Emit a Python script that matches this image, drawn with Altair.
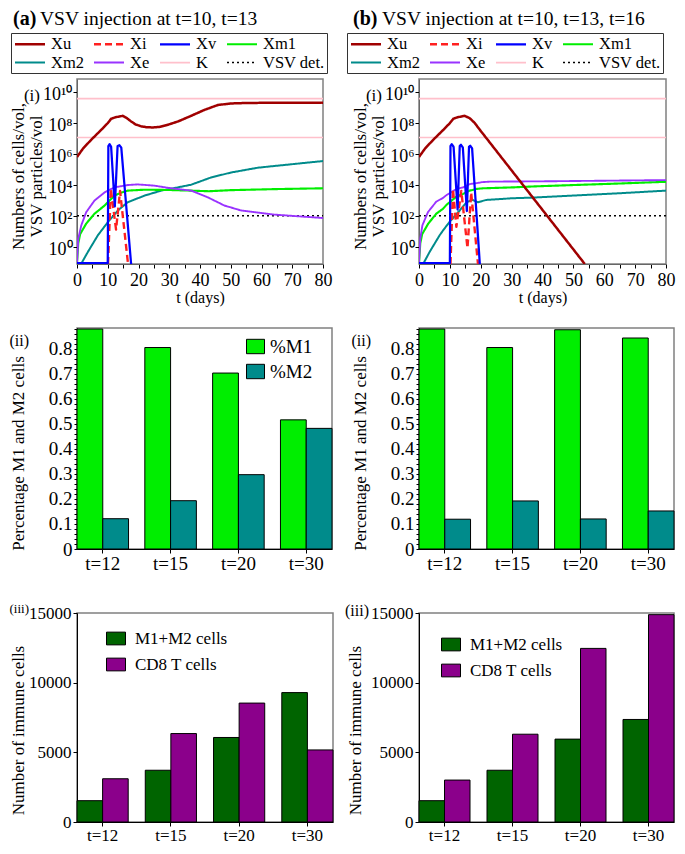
import altair as alt
import pandas as pd

FONT = "Liberation Serif"
DUMMY = pd.DataFrame({"k": [0]})

# ---------------- panel (i): log10 of cells / particles per volume ----------------
K_HIGH = 9.57      # carrying capacity K (log10)
K_LOW = 7.05       # thin pink reference line (log10)
VSV_DET = 2.0      # VSV detection level (log10)
FLOOR = -1.06      # values drawn on the bottom edge

A_XU_T = [0, 2, 4.6, 7.9, 10, 11.1, 12.5, 14.9, 16, 17.6, 19, 20.9, 22.5, 24.6, 27, 29.5, 33, 37.1, 41.4, 45.8, 50.1, 55, 60, 80]
A_XU = [5.79, 6.35, 6.9, 7.55, 7.98, 8.26, 8.36, 8.45, 8.33, 8.09, 7.9, 7.77, 7.72, 7.70, 7.74, 7.87, 8.1, 8.45, 8.83, 9.15, 9.25, 9.28, 9.29, 9.29]
A_XI_T = [10.1, 11.0, 12.7, 14.0, 16.6]
A_XI = [-1.12, 3.75, 1.1, 3.6, -1.12]
A_XV_T = [0, 10.0, 10.2, 10.6, 11.1, 12.3, 13.2, 13.8, 14.4, 17.6]
A_XV = [FLOOR, FLOOR, 6.5, 6.62, 6.45, 2.6, 6.5, 6.55, 6.4, -1.12]
A_XM1_T = [0, 0.4, 1, 3, 5.7, 9, 12.2, 14.5, 16.5, 22, 30, 37, 43, 50, 65, 80]
A_XM1 = [FLOOR, 0.2, 0.8, 1.49, 2.13, 2.66, 3.3, 3.5, 3.62, 3.68, 3.66, 3.62, 3.58, 3.65, 3.72, 3.77]
A_XM2_T = [1.5, 3.6, 6.8, 10.1, 13.3, 16.5, 22, 27.4, 32.8, 37.1, 43.6, 50.1, 58.8, 69.6, 80]
A_XM2 = [FLOOR, -0.32, 0.74, 1.6, 2.34, 2.87, 3.3, 3.62, 3.83, 4.0, 4.47, 4.79, 5.1, 5.32, 5.53]
A_XE_T = [0, 0.4, 1.4, 3, 5.7, 9, 12.2, 16.5, 19.8, 25.2, 30.6, 37.1, 42.5, 47.9, 53.3, 64.2, 80]
A_XE = [FLOOR, 0.5, 1.38, 2.23, 2.98, 3.51, 3.83, 3.98, 4.02, 3.94, 3.77, 3.62, 3.19, 2.66, 2.34, 2.07, 1.85]

B_XU_T = [0, 2, 4.6, 7.9, 10, 11.1, 12.5, 14.8, 16.4, 18, 19.7, 53.7]
B_XU = [5.79, 6.35, 6.9, 7.55, 7.98, 8.26, 8.36, 8.45, 8.3, 8.0, 7.55, -1.12]
B_XI_T = [10.2, 11.0, 12.1, 13.7, 15.7, 16.9, 19.1]
B_XI = [-1.12, 3.73, 1.28, 3.6, -0.1, 3.5, -1.12]
B_XV_T = [0, 10.0, 10.2, 10.6, 11.2, 12.5, 13.2, 13.6, 14.2, 15.5, 16.2, 16.6, 17.2, 19.7]
B_XV = [FLOOR, FLOOR, 6.5, 6.62, 6.45, 2.4, 6.5, 6.58, 6.4, 2.3, 6.45, 6.52, 6.35, -1.12]
B_XM1_T = [0, 0.4, 1, 3, 5.6, 7.8, 8.9, 12.1, 14.3, 16.4, 18.6, 20.8, 30.5, 37, 50, 65, 80]
B_XM1 = [FLOOR, 0.2, 0.8, 1.49, 2.13, 2.45, 2.7, 3.23, 3.41, 3.62, 3.73, 3.77, 3.83, 3.89, 3.98, 4.08, 4.19]
B_XM2_T = [1.5, 3.5, 6.7, 7.8, 9.9, 13.2, 15.4, 17.3, 19.1, 21.8, 30.5, 37, 50, 65, 80]
B_XM2 = [FLOOR, -0.32, 0.74, 1.05, 1.6, 2.34, 2.87, 3.02, 2.87, 3.02, 3.13, 3.17, 3.3, 3.45, 3.62]
B_XE_T = [0, 0.4, 1.1, 2.9, 5.6, 7.8, 8.9, 12.1, 14.3, 16.4, 18.6, 20.5, 22.9, 40, 80]
B_XE = [FLOOR, 0.5, 1.38, 2.23, 2.91, 3.15, 3.33, 3.72, 3.83, 4.04, 4.1, 4.17, 4.2, 4.22, 4.3]

SERIES = ["Xu", "Xi", "Xv", "Xm1", "Xm2", "Xe", "K", "VSV det.", "K low"]
LEGEND_SERIES = SERIES[:8]
COLORS = ["#A00000", "#FF2020", "#0000FF", "#00EE00", "#008B8B", "#9933FF", "#FFC0CB", "#000000", "#FFC0CB"]
DASHES = [[1, 0], [7, 4], [1, 0], [1, 0], [1, 0], [1, 0], [1, 0], [2, 3], [1, 0]]
WIDTHS = [2.5, 1.5, 2.5, 2.5, 2.5, 2.5, 6, 1.5, 2.5]

# ---------------- panels (ii) and (iii) ----------------
TIMES = ["t=12", "t=15", "t=20", "t=30"]
PCT_KINDS = ["%M1", "%M2"]
PCT_COLORS = ["#00EE00", "#008B8B"]
A_M1 = [0.879, 0.805, 0.703, 0.516]
A_M2 = [0.121, 0.193, 0.297, 0.482]
B_M1 = [0.879, 0.805, 0.876, 0.843]
B_M2 = [0.119, 0.192, 0.120, 0.152]

CELL_KINDS = ["M1+M2 cells", "CD8 T cells"]
CELL_COLORS = ["#006400", "#8B008B"]
A_MAC = [1530, 3715, 6066, 9287]
A_CD8 = [3103, 6348, 8534, 5172]
B_MAC = [1530, 3715, 5948, 7359]
B_CD8 = [3009, 6301, 12460, 14882]

SUP = "'10' + ['\u2070','\u00b9','\u00b2','\u00b3','\u2074','\u2075','\u2076','\u2077','\u2078','\u2079','\u00b9\u2070'][datum.value]"
FRAME = alt.ViewBackground(stroke="#808080", strokeWidth=1.5)


def anchor(l, t, r, b):
    return alt.Chart(DUMMY).mark_rule(opacity=0, strokeWidth=0).encode(
        x=alt.value(l), x2=alt.value(r), y=alt.value(t), y2=alt.value(b))


def label(text, x, y, size, weight="normal", align="left", baseline="middle"):
    return alt.Chart(DUMMY).mark_text(
        text=text, font=FONT, fontSize=size, fontWeight=weight, align=align,
        baseline=baseline, color="black").encode(x=alt.value(x), y=alt.value(y))


def line_panel(series, p):
    rows = []
    for name, (ts, vs) in series.items():
        for i, (t, v) in enumerate(zip(ts, vs)):
            rows.append({"series": name, "t": t, "v": v, "i": i})
    df = pd.DataFrame(rows)
    leg = alt.Legend(orient="none", legendX=p["legx"], legendY=-46, columns=4,
                     direction="horizontal", gridAlign="each", symbolType="M-2,0H2",
                     symbolSize=225, symbolOffset=8, labelFontSize=16.5, labelFont=FONT,
                     labelColor="black", labelOffset=12, columnPadding=5, rowPadding=1,
                     padding=2, strokeColor="#333333", title=None, values=LEGEND_SERIES)
    xax = alt.Axis(values=list(range(0, 81, 5)),
                   labelExpr="datum.value % 10 == 0 ? datum.label : ''",
                   labelFlush=False, labelOverlap=False, tickSize=4, labelPadding=3,
                   labelFontSize=18, labelFont=FONT, labelColor="black", tickColor="black",
                   domainColor="#666666", grid=False, title="t (days)", titleFont=FONT,
                   titleFontSize=16, titleFontWeight="normal", titleColor="black",
                   titleY=25, titleBaseline="top")
    yax = alt.Axis(values=[0, 2, 4, 6, 8, 10], labelExpr=SUP, labelOverlap=False,
                   tickSize=4, labelPadding=1, labelOffset=3, labelFontSize=18, labelFont=FONT,
                   labelColor="black", tickColor="black", domainColor="#666666", grid=False,
                   title=["Numbers of cells/vol,", "VSV particles/vol"], titleFont=FONT,
                   titleFontSize=17, titleFontWeight="normal", titleColor="black",
                   titleAngle=270, titleX=-67, titleY=97, titleBaseline="top",
                   titleAlign="center", titleLineHeight=18)
    lines = alt.Chart(df).mark_line(clip=True, strokeJoin="round").encode(
        x=alt.X("t:Q", scale=alt.Scale(domain=[0, 80], nice=False, zero=False), axis=xax),
        y=alt.Y("v:Q", scale=alt.Scale(domain=[-1.12, 10.83], nice=False, zero=False), axis=yax),
        color=alt.Color("series:N", scale=alt.Scale(domain=SERIES, range=COLORS), legend=leg),
        strokeDash=alt.StrokeDash("series:N", scale=alt.Scale(domain=SERIES, range=DASHES), legend=leg),
        strokeWidth=alt.StrokeWidth("series:N", scale=alt.Scale(domain=SERIES, range=WIDTHS), legend=leg),
        order=alt.Order("i:Q"),
    )
    layers = [
        lines,
        label(p["letter"], p["lx"], -54, 20, weight="bold", baseline="alphabetic"),
        label(p["heading"], p["hx"], -54, 19.5, baseline="alphabetic"),
        label("(i)", -37, 17, 17, align="right"),
    ]
    if p.get("anchor"):
        layers.append(anchor(*p["anchor"]))
    return alt.layer(*layers).properties(width=p["W"], height=185, view=FRAME)


def bar_panel(kinds, colors, first, second, domain_top, yvals, yexpr, ytitle, pad, p):
    df = pd.DataFrame({"time": TIMES * 2,
                       "kind": [kinds[0]] * 4 + [kinds[1]] * 4,
                       "val": first + second})
    xax = alt.Axis(title=None, labelAngle=0, labelFontSize=p["lfs"], labelFont=FONT,
                   labelColor="black", tickSize=4, tickColor="black", labelPadding=1,
                   domainColor="black")
    yax = alt.Axis(values=yvals, labelExpr=yexpr, labelOverlap=False, tickSize=p["tick"],
                   labelPadding=2, labelFontSize=p["lfs"], labelFont=FONT, labelColor="black",
                   tickColor="black", domainColor="black", grid=False, title=ytitle,
                   titleFont=FONT, titleFontSize=17, titleFontWeight="normal",
                   titleColor="black", titleAngle=270, titleX=p["ytx"], titleY=p["tty"],
                   titleBaseline="bottom", titleAlign="center")
    if p.get("leg") is not None:
        lx, ly, sym, ssize, lfs, loff, rpad = p["leg"]
        leg = alt.Legend(orient="none", legendX=lx, legendY=ly, symbolType=sym,
                         symbolSize=ssize, symbolStrokeColor="black", symbolStrokeWidth=1,
                         symbolOpacity=1, labelFontSize=lfs, labelFont=FONT, labelColor="black",
                         labelOffset=loff, rowPadding=rpad, padding=0, title=None)
    else:
        leg = None
    bars = alt.Chart(df).mark_bar(stroke="black", strokeWidth=1, opacity=1).encode(
        x=alt.X("time:N", sort=TIMES, scale=alt.Scale(paddingInner=pad, paddingOuter=0), axis=xax),
        xOffset=alt.XOffset("kind:N", sort=kinds, scale=alt.Scale(paddingInner=0, paddingOuter=0)),
        y=alt.Y("val:Q", scale=alt.Scale(domain=[0, domain_top], nice=False, zero=True), axis=yax),
        color=alt.Color("kind:N", scale=alt.Scale(domain=kinds, range=colors), legend=leg),
    )
    return alt.layer(
        bars,
        label(p["tag"], p["tagx"], p["tagy"], p["tagsize"], align="right"),
    ).properties(width=p["W"], height=p["H"], view=FRAME)


A_SERIES = {
    "K low": ([0, 80], [K_LOW, K_LOW]), "K": ([0, 80], [K_HIGH, K_HIGH]),
    "VSV det.": ([0, 80], [VSV_DET, VSV_DET]),
    "Xm2": (A_XM2_T, A_XM2), "Xm1": (A_XM1_T, A_XM1), "Xe": (A_XE_T, A_XE),
    "Xu": (A_XU_T, A_XU), "Xi": (A_XI_T, A_XI), "Xv": (A_XV_T, A_XV),
}
B_SERIES = {
    "K low": ([0, 80], [K_LOW, K_LOW]), "K": ([0, 80], [K_HIGH, K_HIGH]),
    "VSV det.": ([0, 80], [VSV_DET, VSV_DET]),
    "Xm2": (B_XM2_T, B_XM2), "Xm1": (B_XM1_T, B_XM1), "Xe": (B_XE_T, B_XE),
    "Xu": (B_XU_T, B_XU), "Xi": (B_XI_T, B_XI), "Xv": (B_XV_T, B_XV),
}

a1 = line_panel(A_SERIES, dict(W=246, legx=-66, letter="(a)", lx=-64,
                               heading="VSV injection at t=10, t=13", hx=-37,
                               anchor=(-68, -70, -68, -70)))
b1 = line_panel(B_SERIES, dict(W=247, legx=-72, letter="(b)", lx=-66,
                               heading="VSV injection at t=10, t=13, t=16", hx=-37))

PCT_VALS = [round(0.02 * k, 2) for k in range(45)]
PCT_EXPR = "abs(datum.value*10 - round(datum.value*10)) < 0.001 ? format(datum.value, '.1~f') : ''"
PCT_TITLE = "Percentage M1 and M2 cells"
PCT_SYM = "M-1,-0.8H1V0.8H-1Z"
a2 = bar_panel(PCT_KINDS, PCT_COLORS, A_M1, A_M2, 0.883, PCT_VALS, PCT_EXPR, PCT_TITLE, 0.24,
               dict(W=255, H=221, tick=3, lfs=19, ytx=-50, tty=125, tag="(ii)", tagx=-48, tagy=13,
                    tagsize=16, leg=(169, 9, PCT_SYM, 324, 19, 5, 5)))
b2 = bar_panel(PCT_KINDS, PCT_COLORS, B_M1, B_M2, 0.883, PCT_VALS, PCT_EXPR, PCT_TITLE, 0.24,
               dict(W=255, H=221, tick=3, lfs=19, ytx=-50, tty=125, tag="(ii)", tagx=-48, tagy=13,
                    tagsize=16, leg=None))

CELL_VALS = [0, 5000, 10000, 15000]
CELL_EXPR = "format(datum.value, 'd')"
CELL_TITLE = "Number of immune cells"
CELL_SYM = "M-1,-0.67H1V0.67H-1Z"
a3 = bar_panel(CELL_KINDS, CELL_COLORS, A_MAC, A_CD8, 15000, CELL_VALS, CELL_EXPR, CELL_TITLE, 0.25,
               dict(W=256, H=209, tick=4, lfs=17, ytx=-50, tty=117, tag="(iii)", tagx=-48, tagy=-4,
                    tagsize=13, leg=(29, 15.5, CELL_SYM, 361, 17, 9, 7)))
b3 = bar_panel(CELL_KINDS, CELL_COLORS, B_MAC, B_CD8, 15000, CELL_VALS, CELL_EXPR, CELL_TITLE, 0.25,
               dict(W=255, H=209, tick=4, lfs=17, ytx=-55, tty=117, tag="(iii)", tagx=-50, tagy=-2,
                    tagsize=16, leg=(22, 21.5, CELL_SYM, 361, 17, 9, 7)))

RES = dict(color="independent", strokeDash="independent", strokeWidth="independent",
           xOffset="independent", x="independent", y="independent")

chart = alt.ConcatChart(
    concat=[a1, b1, a2, b2, a3, b3], columns=2, bounds="flush", align="each",
    spacing={"row": 64, "column": 86}, padding=0,
).resolve_scale(**RES).configure(font=FONT).configure_view(stroke="transparent")

chart.save("out.html", embed_options={"renderer": "svg", "actions": False})
